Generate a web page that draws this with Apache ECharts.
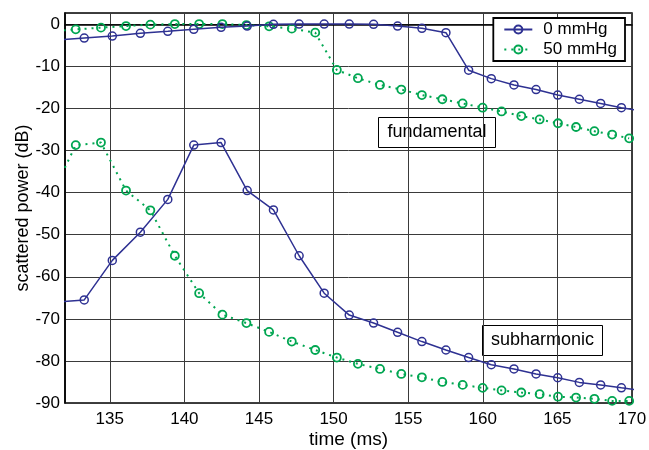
<!DOCTYPE html>
<html>
<head>
<meta charset="utf-8">
<script src="https://cdn.jsdelivr.net/npm/echarts@6/dist/echarts.min.js"></script>
<style>html,body{margin:0;padding:0;background:#fff}#c{width:649px;height:450px}</style>
</head>
<body>
<div id="c"></div>
<script>
// time axis (ms) of each series' samples
var blueTime = [131.4, 133.29, 135.17, 137.05, 138.89, 140.63, 142.46, 144.21, 145.97, 147.69, 149.37, 151.05, 152.68, 154.29, 155.92, 157.53, 159.05, 160.57, 162.09, 163.57, 165.02, 166.47, 167.9, 169.29, 170.63];
var blueFund = [-3.7, -3.25, -2.78, -2.14, -1.66, -1.19, -0.71, -0.4, 0, 0.07, 0.07, 0.07, 0, -0.4, -0.95, -1.97, -10.9, -12.9, -14.4, -15.5, -16.8, -17.8, -18.8, -19.8, -20.6];
var blueSub = [-66.0, -65.5, -56.1, -49.4, -41.6, -28.7, -28.1, -39.5, -44.1, -55.0, -63.9, -69.1, -71.0, -73.2, -75.4, -77.4, -79.2, -80.9, -81.9, -83.1, -84.0, -85.1, -85.7, -86.4, -87.0];

var greenTime = [130.97, 132.72, 134.41, 136.09, 137.72, 139.36, 140.99, 142.55, 144.16, 145.68, 147.2, 148.77, 150.22, 151.63, 153.11, 154.54, 155.92, 157.29, 158.65, 159.99, 161.26, 162.58, 163.81, 165.04, 166.25, 167.48, 168.67, 169.81];
var greenFund = [-1.66, -1.19, -0.78, -0.40, -0.07, 0.07, 0.07, 0.07, -0.17, -0.47, -1.02, -1.97, -10.84, -12.8, -14.4, -15.5, -16.8, -17.8, -18.8, -19.8, -20.7, -21.8, -22.6, -23.5, -24.4, -25.4, -26.2, -27.1];
var greenSub = [-41.6, -28.7, -28.1, -39.5, -44.2, -55.0, -63.9, -69.0, -71.0, -73.1, -75.4, -77.4, -79.2, -80.7, -81.9, -83.1, -83.9, -85.0, -85.7, -86.4, -87.0, -87.5, -87.9, -88.5, -88.7, -89.0, -89.5, -89.5];

var seriesNames = ['0 mmHg', '50 mmHg'];
var annotations = ['fundamental', 'subharmonic'];
var xTitle = 'time (ms)';
var yTitle = 'scattered power (dB)';

function pairs(t, v) { return t.map(function (x, i) { return [x, v[i]]; }); }

var BLUE = '#2e3192', GREEN = '#00a651';
var FONT = '"Liberation Sans", Arial, Helvetica, sans-serif';

function blueSeries(data) {
  return {
    name: seriesNames[0], type: 'line', data: data, clip: true,
    symbol: 'circle', symbolSize: 8, showAllSymbol: true,
    lineStyle: { color: BLUE, width: 1.5, type: 'solid' },
    itemStyle: { color: 'rgba(255,255,255,0)', borderColor: BLUE, borderWidth: 1.5 },
    emphasis: { disabled: true }, animation: false, z: 3
  };
}
function greenSeries(data) {
  return {
    name: seriesNames[1], type: 'line', data: data, clip: true,
    symbol: 'circle', symbolSize: 8, showAllSymbol: true,
    lineStyle: { color: GREEN, width: 2, type: [2, 5] },
    itemStyle: { color: 'rgba(255,255,255,0)', borderColor: GREEN, borderWidth: 1.8 },
    emphasis: { disabled: true }, animation: false, z: 2
  };
}

var chart = echarts.init(document.getElementById('c'), null, { renderer: 'canvas' });
chart.setOption({
  backgroundColor: '#fff',
  animation: false,
  textStyle: { fontFamily: FONT },
  grid: { left: 65, right: 17, top: 13, bottom: 47, show: true, borderColor: '#000', borderWidth: 1.5, backgroundColor: 'transparent', outerBoundsMode: 'none', containLabel: false },
  xAxis: {
    type: 'value', min: 132, max: 170, splitNumber: 8,
    name: xTitle, nameLocation: 'middle', nameGap: 27, nameMoveOverlap: false,
    nameTextStyle: { fontSize: 19, color: '#000', fontFamily: FONT },
    axisLine: { show: true, lineStyle: { color: '#000', width: 1.5 } },
    axisTick: { show: false },
    axisLabel: { color: '#000', fontSize: 17, fontFamily: FONT, margin: 8,
      formatter: function (v) { return Math.abs(v % 5) < 1e-6 ? String(v) : ''; } },
    splitLine: { show: true, lineStyle: { color: '#3a3a3a', width: 1 } }
  },
  yAxis: {
    type: 'value', min: -90, max: 2.7, interval: 10,
    name: yTitle, nameLocation: 'middle', nameGap: 33, nameMoveOverlap: false,
    nameTextStyle: { fontSize: 18, color: '#000', fontFamily: FONT },
    axisLine: { show: true, lineStyle: { color: '#000', width: 1.5 } },
    axisTick: { show: false },
    axisLabel: { color: '#000', fontSize: 17, fontFamily: FONT, margin: 5,
      formatter: function (v) { return Math.abs(v % 10) < 1e-6 ? String(v) : ''; } },
    splitLine: { show: true, lineStyle: { color: '#3a3a3a', width: 1 } }
  },
  legend: {
    data: seriesNames, orient: 'vertical', right: 24, top: 18,
    itemWidth: 28, itemHeight: 10, itemGap: 3,
    padding: [3, 8, 3, 10],
    borderColor: '#000', borderWidth: 1.8, backgroundColor: '#fff',
    textStyle: { fontSize: 17, color: '#000', fontFamily: FONT, padding: [0, 0, 0, 6] },
    selectedMode: false
  },
  graphic: [
    { type: 'group', left: 378, top: 117, z: 10, children: [
      { type: 'rect', shape: { x: 0, y: 0, width: 117, height: 30 }, style: { fill: '#fff', stroke: '#000', lineWidth: 1 } },
      { type: 'text', x: 58.5, y: 15, style: { text: annotations[0], font: '18px ' + FONT, fill: '#000', align: 'center', verticalAlign: 'middle' } }
    ]},
    { type: 'group', left: 482, top: 325, z: 10, children: [
      { type: 'rect', shape: { x: 0, y: 0, width: 120, height: 30 }, style: { fill: '#fff', stroke: '#000', lineWidth: 1 } },
      { type: 'text', x: 60, y: 15, style: { text: annotations[1], font: '18px ' + FONT, fill: '#000', align: 'center', verticalAlign: 'middle' } }
    ]}
  ],
  series: [
    blueSeries(pairs(blueTime, blueFund)),
    blueSeries(pairs(blueTime, blueSub)),
    greenSeries(pairs(greenTime, greenFund)),
    greenSeries(pairs(greenTime, greenSub))
  ]
});
</script>
</body>
</html>
